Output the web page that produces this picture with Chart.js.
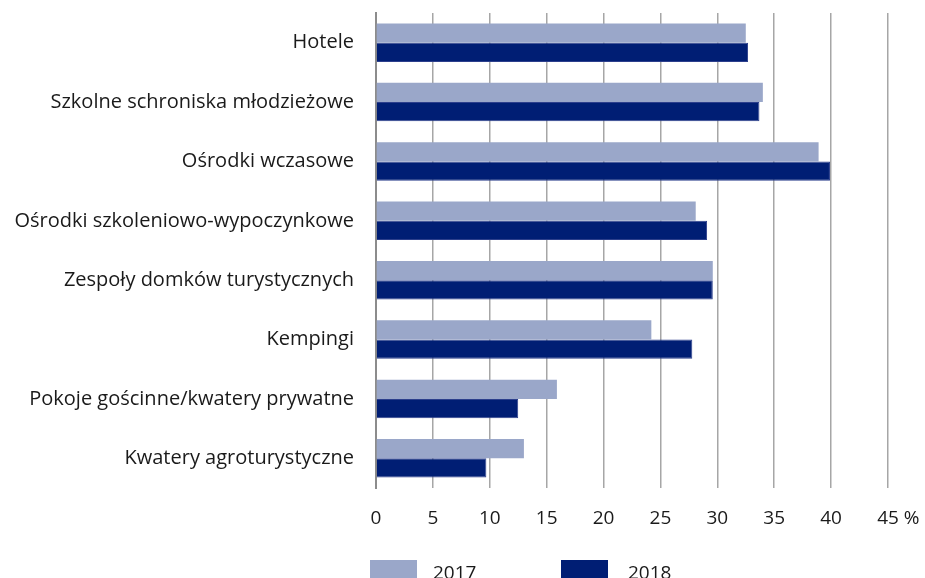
<!DOCTYPE html>
<html>
<head>
<meta charset="utf-8">
<script src="https://cdn.jsdelivr.net/npm/chart.js@4/dist/chart.umd.min.js"></script>
<style>
html,body{margin:0;padding:0;background:#fff;overflow:hidden;}
#wrap{width:925px;height:578px;}
</style>
</head>
<body>
<div id="wrap"><canvas id="c" width="925" height="578"></canvas></div>
<script>
const categories = [
  "Hotele",
  "Szkolne schroniska młodzieżowe",
  "Ośrodki wczasowe",
  "Ośrodki szkoleniowo-wypoczynkowe",
  "Zespoły domków turystycznych",
  "Kempingi",
  "Pokoje gościnne/kwatery prywatne",
  "Kwatery agroturystyczne"
];
const values2017 = [32.5, 34.0, 38.9, 28.1, 29.6, 24.2, 15.9, 13.0];
const values2018 = [32.7, 33.7, 39.9, 29.1, 29.6, 27.8, 12.5, 9.7];
const seriesNames = ["2017", "2018"];
const xTicks = [0, 5, 10, 15, 20, 25, 30, 35, 40, 45];
const unitLabel = "%";

const colors = ["#9aa7c9", "#001e74"];
const FONT = "'Open Sans', 'Liberation Sans', sans-serif";
const FS = 19;

const extras = {
  id: 'extras',
  afterDraw(chart) {
    const ctx = chart.ctx;
    const xs = chart.scales.x;
    ctx.save();
    ctx.font = FS + "px " + FONT;
    ctx.fillStyle = "#1a1a1a";
    ctx.textBaseline = "middle";
    const last = xTicks[xTicks.length - 1];
    const lx = xs.getPixelForValue(last);
    const w = ctx.measureText(String(last)).width;
    ctx.textAlign = "left";
    ctx.fillText(unitLabel, lx + w / 2 + 5, 519);
    const items = [{x: 370, tx: 433}, {x: 561, tx: 628}];
    items.forEach((it, i) => {
      ctx.fillStyle = colors[i];
      ctx.fillRect(it.x, 560, 47, 24);
      ctx.fillStyle = "#1a1a1a";
      ctx.fillText(seriesNames[i], it.tx, 574);
    });
    ctx.restore();
  }
};

new Chart(document.getElementById('c'), {
  type: 'bar',
  data: {
    labels: categories,
    datasets: [
      {label: seriesNames[0], data: values2017, backgroundColor: colors[0], categoryPercentage: 0.65, barPercentage: 1.0},
      {label: seriesNames[1], data: values2018, backgroundColor: colors[1], borderColor: "#2c3f8c", borderWidth: 1, categoryPercentage: 0.65, barPercentage: 1.0}
    ]
  },
  options: {
    indexAxis: 'y',
    responsive: false,
    animation: false,
    devicePixelRatio: 1,
    layout: {padding: {top: 13, right: 37, bottom: 49, left: 0}},
    plugins: {legend: {display: false}, tooltip: {enabled: false}},
    scales: {
      x: {
        min: 0, max: 45,
        afterBuildTicks: (s) => { s.ticks = xTicks.map(v => ({value: v})); },
        ticks: {
          color: "#1a1a1a",
          font: {family: FONT, size: FS},
          padding: 19,
          maxRotation: 0,
          autoSkip: false
        },
        grid: {color: "#a6a6a6", lineWidth: 1.5, drawTicks: false},
        border: {display: false},
        afterFit: (s) => { s.height = 41; s.paddingLeft = 0; s.paddingRight = 0; }
      },
      y: {
        ticks: {
          color: "#1a1a1a",
          font: {family: FONT, size: 20},
          padding: 22,
          autoSkip: false
        },
        grid: {display: false, drawTicks: false},
        border: {display: true, color: "#8c8c8c", width: 2},
        afterFit: (s) => { s.width = 376; s.paddingTop = 0; s.paddingBottom = 0; }
      }
    }
  },
  plugins: [extras]
});
</script>
</body>
</html>
